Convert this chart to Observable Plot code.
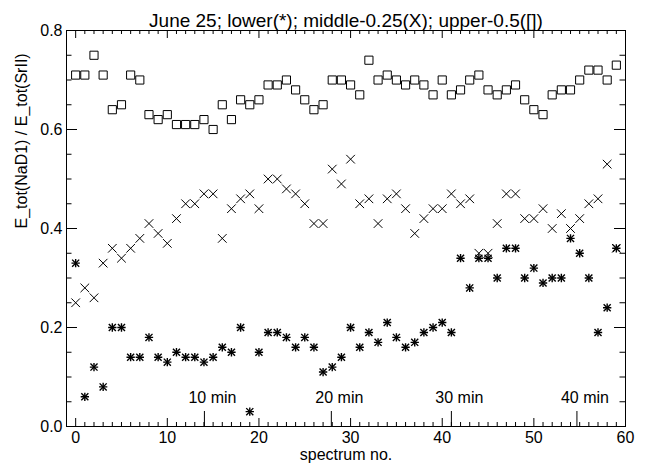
<!DOCTYPE html>
<html>
<head>
<meta charset="utf-8">
<script src="https://cdn.jsdelivr.net/npm/d3@7"></script>
<script src="https://cdn.jsdelivr.net/npm/@observablehq/plot@0.6"></script>
<style>
  html, body { margin: 0; padding: 0; background: #fff; }
</style>
</head>
<body>
<div id="chart"></div>
<script>
// ---- data ----
const spectrum = d3.range(0, 60);
const lower = [0.33,0.06,0.12,0.08,0.20,0.20,0.14,0.14,0.18,0.14,
               0.13,0.15,0.14,0.14,0.13,0.14,0.16,0.15,0.20,0.03,
               0.15,0.19,0.19,0.18,0.16,0.18,0.16,0.11,0.12,0.14,
               0.20,0.16,0.19,0.17,0.21,0.18,0.16,0.17,0.19,0.20,
               0.21,0.19,0.34,0.28,0.34,0.34,0.30,0.36,0.36,0.30,
               0.32,0.29,0.30,0.30,0.38,0.35,0.30,0.19,0.24,0.36];
const middle = [0.25,0.28,0.26,0.33,0.36,0.34,0.36,0.38,0.41,0.39,
                0.37,0.42,0.45,0.45,0.47,0.47,0.38,0.44,0.46,0.47,
                0.44,0.50,0.50,0.48,0.47,0.45,0.41,0.41,0.52,0.49,
                0.54,0.45,0.46,0.41,0.46,0.47,0.44,0.39,0.42,0.44,
                0.44,0.47,0.45,0.46,0.35,0.35,0.41,0.47,0.47,0.42,
                0.42,0.44,0.40,0.43,0.40,0.42,0.45,0.46,0.53,0.36];
const upper = [0.71,0.71,0.75,0.71,0.64,0.65,0.71,0.70,0.63,0.62,
               0.63,0.61,0.61,0.61,0.62,0.60,0.65,0.62,0.66,0.65,
               0.66,0.69,0.69,0.70,0.68,0.66,0.64,0.65,0.70,0.70,
               0.69,0.67,0.74,0.70,0.71,0.70,0.69,0.70,0.69,0.67,
               0.70,0.67,0.68,0.70,0.71,0.68,0.67,0.68,0.69,0.66,
               0.64,0.63,0.67,0.68,0.68,0.70,0.72,0.72,0.70,0.73];

const xMajor = [0, 10, 20, 30, 40, 50, 60];
const xMinor = d3.range(0, 61).filter(v => v % 10 !== 0);
const yMajor = [0.0, 0.2, 0.4, 0.6, 0.8];
const yMinor = [0.05, 0.10, 0.15, 0.25, 0.30, 0.35, 0.45, 0.50, 0.55, 0.65, 0.70, 0.75];
const timeLabels = ["10 min", "20 min", "30 min", "40 min"];
const timeSpectrum = [14.05, 27.9, 41.0, 54.7];

const title = "June 25; lower(*); middle-0.25(X); upper-0.5([])";
const xLabel = "spectrum no.";
const yLabel = "E_tot(NaD1) / E_tot(SrII)";

// ---- layout ----
const W = 657, H = 471;
const mL = 66, mR = 32, mT = 30, mB = 45;
const pw = W - mL - mR, ph = H - mT - mB;
const font = "'Liberation Sans', Arial, Helvetica, sans-serif";

const rows = (vals) => spectrum.map((s, i) => ({x: s, y: vals[i]}));
const lowRows = rows(lower), midRows = rows(middle), upRows = rows(upper);
const timeRows = timeSpectrum.map((s, i) => ({x: s, label: timeLabels[i]}));

const chart = Plot.plot({
  width: W, height: H,
  marginLeft: mL, marginRight: mR, marginTop: mT, marginBottom: mB,
  style: {fontFamily: font, background: "white", color: "black"},
  x: {domain: [-1, 60], axis: null},
  y: {domain: [0, 0.8], axis: null},
  marks: [
    Plot.frame({stroke: "black", strokeWidth: 1}),
    // bottom & top ticks
    Plot.tickX(xMajor, {x: d => d, insetTop: ph - 8, stroke: "black"}),
    Plot.tickX(xMinor, {x: d => d, insetTop: ph - 4, stroke: "black"}),
    Plot.tickX(xMajor, {x: d => d, insetBottom: ph - 8, stroke: "black"}),
    Plot.tickX(xMinor, {x: d => d, insetBottom: ph - 4, stroke: "black"}),
    // left & right ticks
    Plot.tickY(yMajor, {y: d => d, insetRight: pw - 11, stroke: "black"}),
    Plot.tickY(yMinor, {y: d => d, insetRight: pw - 5.5, stroke: "black"}),
    Plot.tickY(yMajor, {y: d => d, insetLeft: pw - 11, stroke: "black"}),
    Plot.tickY(yMinor, {y: d => d, insetLeft: pw - 5.5, stroke: "black"}),
    // tick labels
    Plot.text(xMajor, {x: d => d, text: d => String(d), frameAnchor: "bottom", dy: 16, fontSize: 16, fill: "black"}),
    Plot.text(yMajor, {y: d => d, text: d => d.toFixed(1), frameAnchor: "left", textAnchor: "end", dx: -4, fontSize: 16, fill: "black"}),
    // time markers
    Plot.tickX(timeRows, {x: "x", insetTop: ph - 15, stroke: "black"}),
    Plot.text(timeRows, {x: "x", text: "label", frameAnchor: "bottom", dy: -24, dx: 8, fontSize: 16, fill: "black"}),
    // data
    Plot.dot(upRows, {x: "x", y: "y", symbol: "square", r: 4.6, fill: "none", stroke: "black", strokeWidth: 1}),
    Plot.dot(midRows, {x: "x", y: "y", symbol: "times", r: 4, stroke: "black", strokeWidth: 1}),
    Plot.dot(lowRows, {x: "x", y: "y", symbol: "plus", r: 2.8, stroke: "black", strokeWidth: 1.4}),
    Plot.dot(lowRows, {x: "x", y: "y", symbol: "times", r: 3.3, stroke: "black", strokeWidth: 1.4}),
    // titles
    Plot.text([title], {text: d => d, frameAnchor: "top", dy: -17, fontSize: 19, fill: "black"}),
    Plot.text([xLabel], {text: d => d, frameAnchor: "bottom", dy: 33, fontSize: 16, fill: "black"}),
    Plot.text([yLabel], {text: d => d, frameAnchor: "left", dx: -45, rotate: -90, fontSize: 16, fill: "black"})
  ]
});
document.getElementById("chart").append(chart);
</script>
</body>
</html>
